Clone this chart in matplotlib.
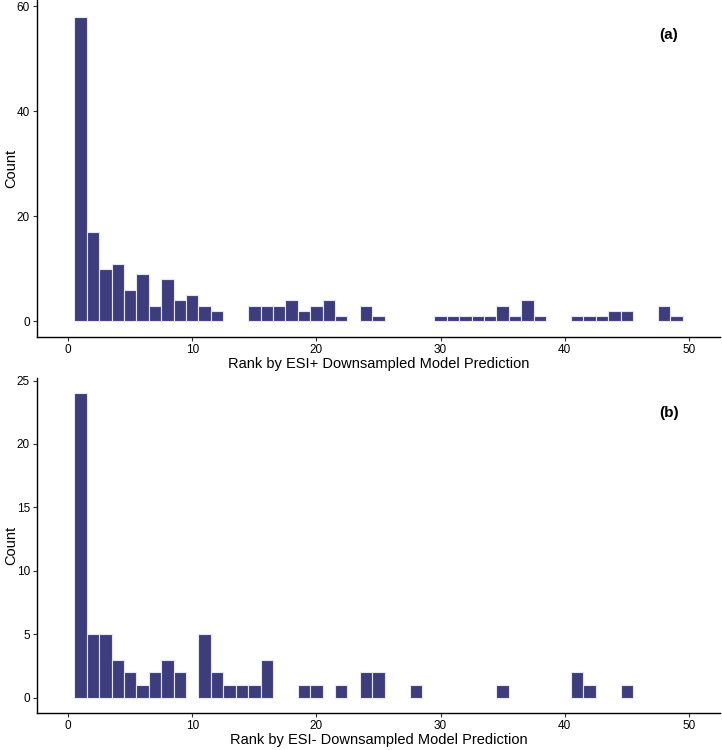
import matplotlib
matplotlib.use("Agg")
import matplotlib.pyplot as plt
import numpy as np

plt.rcParams['font.family'] = ['Liberation Sans', 'DejaVu Sans']

# Panel (a): ESI+ ranks and counts
ranks_a = [1, 2, 3, 4, 5, 6, 7, 8, 9, 10, 11, 12, 15, 16, 17, 18, 19, 20, 21, 22,
           24, 25, 30, 31, 32, 33, 34, 35, 36, 37, 38, 41, 42, 43, 44, 45, 48, 49]
counts_a = [58, 17, 10, 11, 6, 9, 3, 8, 4, 5, 3, 2, 3, 3, 3, 4, 2, 3, 4, 1,
            3, 1, 1, 1, 1, 1, 1, 3, 1, 4, 1, 1, 1, 1, 2, 2, 3, 1]

# Panel (b): ESI- ranks and counts
ranks_b = [1, 2, 3, 4, 5, 6, 7, 8, 9, 11, 12, 13, 14, 15, 16, 19, 20, 22, 24, 25,
           28, 35, 41, 42, 45]
counts_b = [24, 5, 5, 3, 2, 1, 2, 3, 2, 5, 2, 1, 1, 1, 3, 1, 1, 1, 2, 2,
            1, 1, 2, 1, 1]

xticks = [0, 10, 20, 30, 40, 50]
yticks_a = [0, 20, 40, 60]
yticks_b = [0, 5, 10, 15, 20, 25]

xlabel_a = "Rank by ESI+ Downsampled Model Prediction"
xlabel_b = "Rank by ESI- Downsampled Model Prediction"
ylabel = "Count"

bar_color = "#3d3d7e"
edge_color = "#e6e6ee"

W, H = 722, 750
fig = plt.figure(figsize=(W / 100, H / 100), dpi=100)

def px_axes(l, t, r, b):
    return fig.add_axes([l / W, 1 - b / H, (r - l) / W, (b - t) / H])

ax1 = px_axes(37, 0, 720, 337)
ax2 = px_axes(37, 378, 720, 713)

def style(ax, ranks, counts, yticks, ylim, xlabel, tag):
    ax.bar(ranks, counts, width=1.0, color=bar_color, edgecolor=edge_color,
           linewidth=0.8, align='center')
    ax.set_xlim(-2.5, 52.5)
    ax.set_ylim(*ylim)
    ax.set_xticks(xticks)
    ax.set_yticks(yticks)
    ax.tick_params(axis='both', labelsize=8.5, length=3, width=0.8, color='#333333',
                   labelcolor='black', pad=2)
    for s in ['top', 'right']:
        ax.spines[s].set_visible(False)
    for s in ['left', 'bottom']:
        ax.spines[s].set_linewidth(1.0)
        ax.spines[s].set_color('black')
    ax.set_xlabel(xlabel, fontsize=10.5, labelpad=1)
    ax.set_ylabel(ylabel, fontsize=10.5)
    ax.yaxis.set_label_coords(-0.028, 0.5)
    ax.text(0.925, 0.895, tag, transform=ax.transAxes, fontsize=11,
            fontweight='heavy', ha='center', va='center')

style(ax1, ranks_a, counts_a, yticks_a, (-3.0, 61.2), xlabel_a, "(a)")
style(ax2, ranks_b, counts_b, yticks_b, (-1.2, 25.2), xlabel_b, "(b)")

fig.savefig("out.png", dpi=100)
